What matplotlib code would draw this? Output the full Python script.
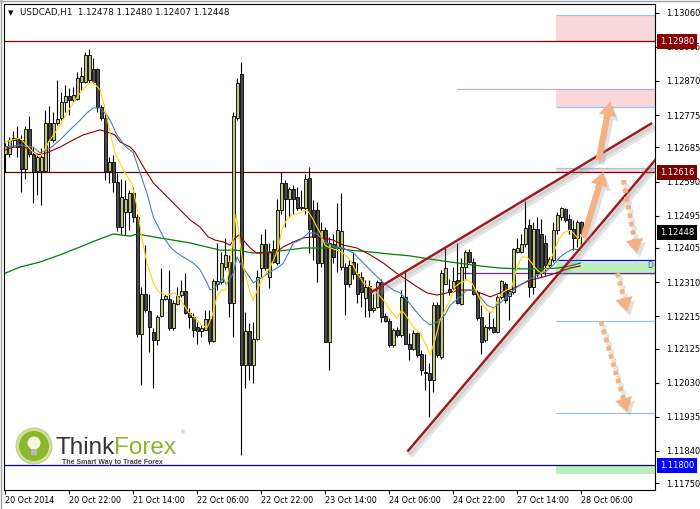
import matplotlib
matplotlib.use("Agg")
import matplotlib.pyplot as plt
import matplotlib.patheffects as pe
from matplotlib.patches import Rectangle, Ellipse
from matplotlib.lines import Line2D
import numpy as np

# ---- candles, USDCAD H1, one bar per hour from 20 Oct 06:00 ----
opens = [1.12668, 1.12668, 1.12705, 1.12710, 1.12707, 1.12626, 1.12735, 1.12666, 1.12620, 1.12620,
         1.12620, 1.12752, 1.12705, 1.12752, 1.12766, 1.12812, 1.12828, 1.12817, 1.12821, 1.12868,
         1.12868, 1.12872, 1.12902, 1.12902, 1.12798, 1.12768, 1.12620, 1.12645, 1.12589, 1.12464,
         1.12506, 1.12506, 1.12559, 1.12492, 1.12165, 1.12277, 1.12229, 1.12170, 1.12150, 1.12215,
         1.12264, 1.12264, 1.12181, 1.12249, 1.12273, 1.12286, 1.12223, 1.12212, 1.12184, 1.12174,
         1.12178, 1.12206, 1.12147, 1.12306, 1.12311, 1.12353, 1.12365, 1.12251, 1.12768, 1.12889,
         1.12079, 1.12174, 1.12079, 1.12153, 1.12348, 1.12415, 1.12323, 1.12401, 1.12362, 1.12512,
         1.12585, 1.12540, 1.12568, 1.12546, 1.12515, 1.12515, 1.12601, 1.12510, 1.12510, 1.12362,
         1.12455, 1.12144, 1.12415, 1.12408, 1.12353, 1.12353, 1.12306, 1.12365, 1.12332, 1.12323,
         1.12267, 1.12299, 1.12232, 1.12241, 1.12311, 1.12215, 1.12202, 1.12135, 1.12178, 1.12162,
         1.12269, 1.12139, 1.12125, 1.12167, 1.12110, 1.12060, 1.12056, 1.12037, 1.12246, 1.12102,
         1.12306, 1.12292, 1.12295, 1.12317, 1.12249, 1.12353, 1.12394, 1.12367, 1.12283, 1.12213,
         1.12148, 1.12181, 1.12184, 1.12170, 1.12269, 1.12304, 1.12271, 1.12283, 1.12393, 1.12393,
         1.12416, 1.12469, 1.12297, 1.12459, 1.12445, 1.12420, 1.12357, 1.12371, 1.12455, 1.12490,
         1.12513, 1.12487, 1.12459, 1.12432, 1.12478]
highs = [1.12696, 1.12715, 1.12731, 1.12744, 1.12719, 1.12744, 1.12772, 1.12687, 1.12670, 1.12682,
         1.12789, 1.12800, 1.12784, 1.12874, 1.12840, 1.12858, 1.12849, 1.12852, 1.12896, 1.12909,
         1.12951, 1.12958, 1.12933, 1.12905, 1.12803, 1.12780, 1.12659, 1.12664, 1.12614, 1.12598,
         1.12594, 1.12566, 1.12575, 1.12501, 1.12297, 1.12413, 1.12278, 1.12181, 1.12218, 1.12348,
         1.12278, 1.12343, 1.12260, 1.12297, 1.12317, 1.12334, 1.12239, 1.12223, 1.12200, 1.12190,
         1.12232, 1.12232, 1.12320, 1.12418, 1.12394, 1.12434, 1.12385, 1.12784, 1.12877, 1.12923,
         1.12227, 1.12195, 1.12200, 1.12343, 1.12445, 1.12457, 1.12418, 1.12427, 1.12540, 1.12617,
         1.12594, 1.12575, 1.12580, 1.12575, 1.12566, 1.12612, 1.12631, 1.12538, 1.12534, 1.12478,
         1.12464, 1.12436, 1.12445, 1.12529, 1.12557, 1.12362, 1.12371, 1.12394, 1.12362, 1.12339,
         1.12315, 1.12315, 1.12278, 1.12315, 1.12320, 1.12223, 1.12209, 1.12181, 1.12186, 1.12288,
         1.12343, 1.12167, 1.12176, 1.12172, 1.12121, 1.12111, 1.12084, 1.12255, 1.12255, 1.12343,
         1.12408, 1.12320, 1.12353, 1.12418, 1.12376, 1.12399, 1.12401, 1.12376, 1.12288, 1.12246,
         1.12190, 1.12227, 1.12209, 1.12274, 1.12315, 1.12311, 1.12288, 1.12404, 1.12434, 1.12445,
         1.12536, 1.12487, 1.12478, 1.12492, 1.12487, 1.12441, 1.12380, 1.12478, 1.12506, 1.12518,
         1.12515, 1.12501, 1.12483, 1.12483, 1.12480]
lows = [1.12617, 1.12659, 1.12687, 1.12659, 1.12561, 1.12598, 1.12659, 1.12531, 1.12552, 1.12524,
        1.12617, 1.12617, 1.12701, 1.12747, 1.12761, 1.12784, 1.12775, 1.12812, 1.12817, 1.12844,
        1.12865, 1.12863, 1.12863, 1.12784, 1.12761, 1.12594, 1.12585, 1.12561, 1.12453, 1.12445,
        1.12441, 1.12455, 1.12478, 1.12158, 1.12023, 1.12227, 1.12116, 1.12014, 1.12135, 1.12213,
        1.12260, 1.12178, 1.12176, 1.12246, 1.12269, 1.12221, 1.12181, 1.12158, 1.12139, 1.12158,
        1.12176, 1.12139, 1.12144, 1.12288, 1.12306, 1.12343, 1.12213, 1.12158, 1.12761, 1.11828,
        1.12014, 1.12037, 1.12028, 1.12148, 1.12325, 1.12343, 1.12295, 1.12362, 1.12357, 1.12501,
        1.12464, 1.12492, 1.12501, 1.12510, 1.12510, 1.12501, 1.12390, 1.12371, 1.12311, 1.12353,
        1.12144, 1.12065, 1.12362, 1.12339, 1.12343, 1.12218, 1.12297, 1.12320, 1.12251, 1.12241,
        1.12213, 1.12213, 1.12227, 1.12237, 1.12200, 1.12200, 1.12130, 1.12130, 1.12158, 1.12158,
        1.12139, 1.12093, 1.12121, 1.12102, 1.12051, 1.12009, 1.11935, 1.12005, 1.12102, 1.12097,
        1.12306, 1.12274, 1.12283, 1.12249, 1.12246, 1.12320, 1.12362, 1.12274, 1.12204, 1.12111,
        1.12144, 1.12176, 1.12167, 1.12167, 1.12264, 1.12251, 1.12204, 1.12278, 1.12390, 1.12390,
        1.12408, 1.12269, 1.12278, 1.12325, 1.12325, 1.12329, 1.12353, 1.12367, 1.12445, 1.12483,
        1.12478, 1.12445, 1.12399, 1.12408, 1.12407]
closes = [1.12689, 1.12705, 1.12710, 1.12687, 1.12624, 1.12735, 1.12666, 1.12617, 1.12659, 1.12659,
          1.12754, 1.12705, 1.12752, 1.12764, 1.12812, 1.12828, 1.12817, 1.12832, 1.12879, 1.12883,
          1.12942, 1.12942, 1.12868, 1.12798, 1.12768, 1.12620, 1.12645, 1.12589, 1.12464, 1.12546,
          1.12540, 1.12559, 1.12492, 1.12165, 1.12277, 1.12232, 1.12184, 1.12150, 1.12212, 1.12262,
          1.12271, 1.12181, 1.12251, 1.12271, 1.12284, 1.12223, 1.12212, 1.12178, 1.12174, 1.12181,
          1.12206, 1.12147, 1.12313, 1.12314, 1.12362, 1.12385, 1.12251, 1.12772, 1.12863, 1.12079,
          1.12174, 1.12079, 1.12153, 1.12325, 1.12415, 1.12348, 1.12394, 1.12367, 1.12512, 1.12587,
          1.12540, 1.12568, 1.12540, 1.12515, 1.12520, 1.12596, 1.12457, 1.12436, 1.12362, 1.12455,
          1.12144, 1.12418, 1.12380, 1.12455, 1.12453, 1.12306, 1.12359, 1.12332, 1.12278, 1.12283,
          1.12297, 1.12232, 1.12239, 1.12311, 1.12213, 1.12202, 1.12135, 1.12176, 1.12162, 1.12269,
          1.12139, 1.12125, 1.12167, 1.12107, 1.12065, 1.12056, 1.12037, 1.12246, 1.12107, 1.12334,
          1.12348, 1.12283, 1.12314, 1.12251, 1.12353, 1.12393, 1.12367, 1.12278, 1.12209, 1.12144,
          1.12186, 1.12186, 1.12170, 1.12269, 1.12313, 1.12260, 1.12286, 1.12401, 1.12404, 1.12416,
          1.12462, 1.12297, 1.12459, 1.12334, 1.12334, 1.12357, 1.12373, 1.12455, 1.12496, 1.12515,
          1.12483, 1.12459, 1.12432, 1.12478, 1.12448]

# ---- moving averages (bar position, price) ----
ma_yellow_bar = [0, 3.7, 6.9, 8.7, 11.2, 13.7, 15.4, 17.9, 20.4, 21.9, 23.7, 25, 26.2, 27.4, 29.9, 31.6,
                 32.9, 34.1, 35.4, 37, 38.3, 40.4, 42.4, 44.1, 45.8, 47.4, 49.1, 50.4, 51.6, 52.9, 54.1,
                 55, 55.8, 56.9, 57.7, 58.3, 59.5, 61.2, 62, 63.3, 64.5, 66.2, 67.4, 68.3, 69.1, 70.3,
                 71.6, 73.7, 75.4, 76.6, 77.9, 78.7, 79.9, 81.2, 82.9, 84.5, 86.2, 87.9, 89.5, 91.2,
                 92.9, 94.5, 96.2, 97.9, 99.1, 100.4, 102, 103.7, 105.4, 106.2, 107.4, 108.7, 109.9,
                 111.2, 112.4, 113.7, 115.4, 116.6, 117.9, 119.1, 120.4, 121.6, 122.9, 124.1, 125.4,
                 126.6, 127.9, 129.1, 130.4, 131.6, 132.9, 134.1, 135.4, 137, 138.3, 139.5, 141, 142,
                 143, 144]
ma_yellow = [1.12701, 1.12711, 1.12672, 1.12658, 1.12706, 1.12747, 1.12781, 1.12825, 1.12859, 1.12867,
             1.12845, 1.12789, 1.12725, 1.12670, 1.12614, 1.12586, 1.12519, 1.12436, 1.12363, 1.12308,
             1.12283, 1.12274, 1.12280, 1.12255, 1.12227, 1.12210, 1.12191, 1.12182, 1.12213, 1.12269,
             1.12288, 1.12288, 1.12335, 1.12427, 1.12497, 1.12455, 1.12352, 1.12280, 1.12260, 1.12297,
             1.12324, 1.12352, 1.12380, 1.12408, 1.12455, 1.12483, 1.12497, 1.12502, 1.12511, 1.12491,
             1.12463, 1.12447, 1.12413, 1.12405, 1.12399, 1.12391, 1.12372, 1.12335, 1.12308, 1.12297,
             1.12280, 1.12260, 1.12232, 1.12210, 1.12232, 1.12213, 1.12185, 1.12168, 1.12129, 1.12107,
             1.12149, 1.12205, 1.12232, 1.12260, 1.12297, 1.12308, 1.12316, 1.12308, 1.12280, 1.12252,
             1.12232, 1.12224, 1.12255, 1.12280, 1.12288, 1.12297, 1.12352, 1.12380, 1.12380, 1.12363,
             1.12344, 1.12335, 1.12352, 1.12391, 1.12427, 1.12447, 1.12455, 1.12447, 1.12433, 1.12413]

ma_blue_bar = [0, 3.7, 6.9, 8.7, 11.2, 13.7, 16.2, 18.7, 20.4, 22, 23.7, 25.4, 26.2, 27.9, 29.9, 32,
               33.7, 35.4, 37, 39.5, 41.2, 42.9, 44.9, 47, 48.7, 50.4, 51.2, 52.4, 54.5, 55.2, 57,
               57.9, 58.7, 60.4, 62, 64.1, 66.2, 68.3, 69.5, 70.8, 72, 73.7, 75.8, 77.4, 78.7, 80.3,
               82.4, 84.5, 87, 89.5, 92, 94.5, 97, 98.7, 100.4, 102.4, 104.5, 106.2, 107.9, 109.9,
               111.2, 113.7, 115.4, 117, 118.7, 120.4, 122, 123.7, 125.4, 127, 128.7, 130.8, 132.9,
               135, 137, 138.7, 140.4, 142, 143.7]
ma_blue = [1.12686, 1.12692, 1.12686, 1.12670, 1.12683, 1.12706, 1.12734, 1.12761, 1.12781, 1.12795,
           1.12795, 1.12775, 1.12761, 1.12720, 1.12689, 1.12670, 1.12614, 1.12558, 1.12491, 1.12436,
           1.12408, 1.12391, 1.12377, 1.12363, 1.12344, 1.12308, 1.12288, 1.12294, 1.12322, 1.12302,
           1.12335, 1.12380, 1.12363, 1.12335, 1.12308, 1.12322, 1.12338, 1.12352, 1.12363, 1.12391,
           1.12419, 1.12427, 1.12447, 1.12447, 1.12436, 1.12419, 1.12408, 1.12405, 1.12391, 1.12363,
           1.12335, 1.12308, 1.12288, 1.12280, 1.12260, 1.12232, 1.12205, 1.12191, 1.12199, 1.12219,
           1.12246, 1.12269, 1.12288, 1.12288, 1.12269, 1.12246, 1.12238, 1.12252, 1.12269, 1.12288,
           1.12302, 1.12316, 1.12330, 1.12338, 1.12358, 1.12380, 1.12394, 1.12402, 1.12399]

ma_red_bar = [0, 2, 6.2, 7.9, 10.4, 13.7, 17, 19.5, 22, 23.7, 25.4, 27.4, 28.7, 31.2, 32.4, 34.5, 37,
              39.5, 42, 43.7, 46.2, 48.7, 50.7, 52.4, 54.5, 56.2, 57, 58.3, 59.5, 61.2, 62.8, 65.4,
              67.8, 69.5, 72, 74.5, 77, 79.5, 82, 84.5, 87.9, 91.2, 94.5, 97.8, 100.4, 102.9, 105.4,
              107.9, 110.4, 113.7, 116.2, 118.7, 121.2, 123.7, 126.2, 128.7, 131.2, 133.7, 136.2,
              138.3, 141.2, 143.7]
ma_red = [1.12678, 1.12686, 1.12683, 1.12664, 1.12670, 1.12686, 1.12706, 1.12720, 1.12728, 1.12734,
          1.12728, 1.12720, 1.12700, 1.12686, 1.12672, 1.12631, 1.12586, 1.12558, 1.12530, 1.12511,
          1.12483, 1.12463, 1.12436, 1.12427, 1.12422, 1.12413, 1.12427, 1.12441, 1.12427, 1.12405,
          1.12391, 1.12391, 1.12394, 1.12408, 1.12422, 1.12433, 1.12436, 1.12433, 1.12427, 1.12413,
          1.12405, 1.12386, 1.12363, 1.12335, 1.12316, 1.12297, 1.12280, 1.12274, 1.12280, 1.12288,
          1.12288, 1.12280, 1.12269, 1.12280, 1.12288, 1.12302, 1.12316, 1.12322, 1.12330, 1.12338,
          1.12349, 1.12355]

ma_green_bar = [0, 3.7, 8.7, 13.7, 18.7, 22.9, 27, 31.2, 32.9, 38.7, 46.2, 53.7, 57.8, 62, 66.2, 70.3,
                74.5, 78.7, 82.9, 86.2, 91.2, 96.2, 101.2, 106.2, 111.2, 118.7, 123.7, 128.7, 133.7,
                137.9, 141.2, 143.7]
ma_green = [1.12335, 1.12352, 1.12366, 1.12386, 1.12408, 1.12427, 1.12444, 1.12438, 1.12444, 1.12433,
            1.12419, 1.12399, 1.12399, 1.12391, 1.12394, 1.12399, 1.12405, 1.12405, 1.12405, 1.12399,
            1.12394, 1.12388, 1.12383, 1.12374, 1.12366, 1.12355, 1.12349, 1.12347, 1.12347, 1.12349,
            1.12355, 1.12363]

# ---- analyst drawings ----
upper_trend = [(91.2, 1.12280), (161.7, 1.12753)]
lower_trend = [(100.5, 1.11838), (162.7, 1.12653)]
solid_arrows = [((144.5, 1.12433), (149.5, 1.12617)),
                ((148.3, 1.12650), (151.2, 1.12812))]
dotted_arrows = [((154.5, 1.12594), (157.9, 1.12391)),
                 ((153.0, 1.12335), (155.5, 1.12228)),
                 ((148.9, 1.12200), (155.5, 1.11949))]
pink_zones = [(1.12978, 1.13054), (1.12798, 1.12848), (1.12616, 1.12628)]
green_zones = [(1.12330, 1.12366), (1.11775, 1.11800)]
light_levels = [1.13054, 1.12798, 1.12628, 1.12202, 1.11946]

yticks = [1.13060, 1.12965, 1.12870, 1.12775, 1.12685, 1.12590, 1.12495, 1.12405,
          1.12310, 1.12215, 1.12125, 1.12030, 1.11935, 1.11840, 1.11750]
xtick_bars = [0, 16, 32, 48, 64, 80, 96, 112, 128, 144]
xtick_labels = ["20 Oct 2014", "20 Oct 22:00", "21 Oct 14:00", "22 Oct 06:00", "22 Oct 22:00",
                "23 Oct 14:00", "24 Oct 06:00", "24 Oct 22:00", "27 Oct 14:00", "28 Oct 06:00"]

bull_col = "#BFC486"
bear_col = "#4A4A4A"
arrow_col = "#F4B183"
x_right = 162.4
zone_start = 137.7
level_start = 112.9

fig = plt.figure(figsize=(7.0, 5.09), dpi=100)
ax = fig.add_axes([4 / 700, 19 / 509, 651 / 700, 486 / 509])
ax.set_xlim(-0.325, x_right)
ax.set_ylim(1.117313, 1.130842)

# zones behind everything
for lo, hi in pink_zones:
    ax.add_patch(Rectangle((zone_start, lo), x_right - zone_start, hi - lo,
                           facecolor="#F9D7DA", edgecolor="none", zorder=1))
for lo, hi in green_zones:
    ax.add_patch(Rectangle((zone_start, lo), x_right - zone_start, hi - lo,
                           facecolor="#BDEFBD", edgecolor="none", zorder=1))
ax.hlines(light_levels, zone_start, x_right, color="#9CC2E5", lw=0.9, zorder=2)
ax.hlines(1.12848, level_start, x_right, color="#B7B0D6", lw=0.9, zorder=2)
ax.hlines(1.12335, level_start, x_right, color="#6E2C9A", lw=0.9, zorder=2)
ax.hlines(1.12371, 138.2, x_right, color="#0000FF", lw=0.9, zorder=2)
ax.text(161.3, 1.12357, "D", fontsize=5.5, color="#2E5C9A", ha="center", va="center", zorder=2)

# horizontal levels
ax.axhline(1.12980, color="#8B0000", lw=0.9, zorder=2)
ax.axhline(1.12616, color="#6B0000", lw=0.9, zorder=2)
ax.axhline(1.11800, color="#0000CD", lw=0.9, zorder=2)

# candles
idx = np.arange(len(opens))
o = np.array(opens)
h = np.array(highs)
l = np.array(lows)
c = np.array(closes)
up = c >= o
ax.vlines(idx, l, h, color="black", lw=0.8, zorder=3)
body_h = np.maximum(np.abs(c - o), 0.00002)
ax.bar(idx, body_h, bottom=np.minimum(o, c), width=0.75,
       color=np.where(up, bull_col, bear_col), edgecolor="black", linewidth=0.6, zorder=4)

# moving averages
ax.plot(ma_green_bar, ma_green, color="#008000", lw=0.9, zorder=5)
ax.plot(ma_red_bar, ma_red, color="#8B0000", lw=0.8, zorder=5)
ax.plot(ma_blue_bar, ma_blue, color="#4682B4", lw=0.8, zorder=5)
ax.plot(ma_yellow_bar, ma_yellow, color="#FFD700", lw=0.8, zorder=5)

# trend lines with soft shadow
shadow = [pe.SimpleLineShadow(offset=(2, -3), shadow_color="#888888", alpha=0.22, linewidth=4.5),
          pe.SimpleLineShadow(offset=(1.5, -2), shadow_color="#888888", alpha=0.18, linewidth=2.5),
          pe.Normal()]
for line in (upper_trend, lower_trend):
    xs, ys = zip(*line)
    ax.plot(xs, ys, color="#9E1C20", lw=1.8, solid_capstyle="butt", zorder=6,
            path_effects=shadow)

# arrows
head_style = "simple,head_length=1.1,head_width=1.4,tail_width=0.5"
patch_shadow = [pe.SimplePatchShadow(offset=(2, -3), shadow_rgbFace="#999999", alpha=0.3),
                pe.Normal()]
for tail, head in solid_arrows:
    a = ax.annotate("", xy=head, xytext=tail, zorder=7,
                    arrowprops=dict(arrowstyle=head_style, fc=arrow_col, ec="none",
                                    mutation_scale=9, shrinkA=0, shrinkB=0))
    a.arrow_patch.set_path_effects(patch_shadow)
for tail, head in dotted_arrows:
    neck = (head[0] + (tail[0] - head[0]) * 0.14, head[1] + (tail[1] - head[1]) * 0.14)
    ax.plot([tail[0], neck[0]], [tail[1], neck[1]], color=arrow_col, lw=3.6,
            linestyle=(0, (0.9, 0.8)), dash_capstyle="butt", zorder=7,
            path_effects=[pe.SimpleLineShadow(offset=(2, -3), shadow_color="#999999", alpha=0.25),
                          pe.Normal()])
    a = ax.annotate("", xy=head, xytext=neck, zorder=7,
                    arrowprops=dict(arrowstyle=head_style, fc=arrow_col, ec="none",
                                    mutation_scale=9, shrinkA=0, shrinkB=0))
    a.arrow_patch.set_path_effects(patch_shadow)

# axes styling
ax.yaxis.tick_right()
ax.set_yticks(yticks)
ax.set_yticklabels([f"{v:.5f}" for v in yticks])
ax.set_xticks(xtick_bars)
ax.set_xticklabels(xtick_labels, ha="left")
ax.tick_params(axis="y", length=3, width=0.8, pad=5, labelsize=6)
ax.tick_params(axis="x", length=3, width=0.8, pad=1.5, labelsize=5.8)
for s in ax.spines.values():
    s.set_color("black")
    s.set_linewidth(0.8)

# price tags on the right axis
tags = [(1.12980, "#8B0000", "white"), (1.12616, "#7A0000", "white"),
        (1.12448, "black", "white"), (1.11800, "#0000FF", "white")]
for price, fc, tc in tags:
    ax.text(1.0 + 5 / 651, price, f"{price:.5f}", transform=ax.get_yaxis_transform(),
            fontsize=6, color=tc, ha="left", va="center", zorder=10, clip_on=False,
            bbox=dict(boxstyle="square,pad=0.35", fc=fc, ec="none"))

# header
fig.text(8 / 700, 1 - 13 / 509, "\u25bc", fontsize=5, va="center", color="black")
fig.text(20 / 700, 1 - 13 / 509, "USDCAD,H1  1.12478 1.12480 1.12407 1.12448",
         fontsize=6.3, va="center", color="#111111")

# ThinkForex logo
fig.add_artist(Ellipse((34 / 700, 1 - 446 / 509), 36 / 700, 36 / 509,
                       transform=fig.transFigure, fc="#CFE09A", ec="#B5CC70", lw=0.6))
fig.add_artist(Ellipse((34 / 700, 1 - 446 / 509), 30 / 700, 30 / 509,
                       transform=fig.transFigure, fc="#8DB82B", ec="none"))
fig.add_artist(Ellipse((34 / 700, 1 - 443 / 509), 13 / 700, 13 / 509,
                       transform=fig.transFigure, fc="#F3F7DC", ec="none"))
fig.add_artist(Rectangle((31 / 700, 1 - 455 / 509), 6 / 700, 6 / 509,
                         transform=fig.transFigure, fc="#B9B9B9", ec="none"))
fig.text(55 / 700, 1 - 454 / 509, "Think", fontsize=17.5, family="Liberation Sans",
         color="#333333", va="baseline")
fig.text(113.5 / 700, 1 - 454 / 509, "Forex", fontsize=17.5, family="Liberation Sans",
         color="#8CB529", va="baseline")
fig.text(179 / 700, 1 - 433 / 509, "\u00ae", fontsize=4, color="#999999", va="center")
fig.text(62 / 700, 1 - 462.5 / 509, "The Smart Way to Trade Forex", fontsize=5.0,
         family="Liberation Sans", weight="bold", color="#444444", va="center")

# window frame
fig.add_artist(Line2D([0.5 / 700, 0.5 / 700], [0, 1], transform=fig.transFigure,
                      color="#A0A0A0", lw=1))
fig.add_artist(Line2D([0, 1], [1 - 0.5 / 509, 1 - 0.5 / 509], transform=fig.transFigure,
                      color="#A0A0A0", lw=1))

fig.savefig("out.png", dpi=100, facecolor="white")
